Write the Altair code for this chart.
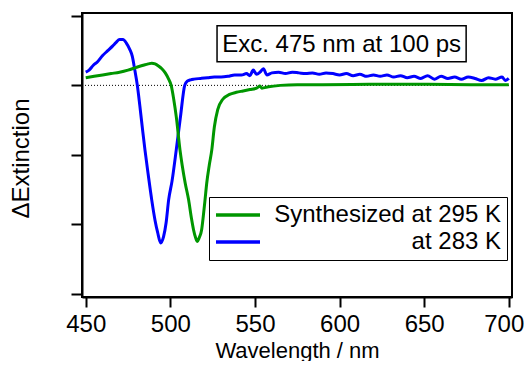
import altair as alt
import pandas as pd

# ---- data ----
blue_label = "at 283 K"
green_label = "Synthesized at 295 K"

blue_wl = [450, 452, 454.5, 457, 460, 463, 466, 468, 470, 472, 474, 476, 477.5, 479,
           480.5, 482, 483.5, 485, 487, 489, 491, 492.5, 494.3, 496, 497.5, 499, 501,
           503.5, 506, 508.5, 510, 512, 514, 518, 522, 526, 530, 534, 538, 542, 545,
           547, 549, 551, 553, 555, 557, 560, 564, 568, 572, 576, 580, 584, 588, 592,
           596, 600, 604, 608, 612, 616, 620, 624, 628, 632, 636, 640, 644, 648, 652,
           656, 660, 664, 668, 672, 676, 680, 684, 688, 692, 696, 698, 700]
blue_val = [0.19, 0.22, 0.29, 0.34, 0.43, 0.50, 0.57, 0.62, 0.66, 0.66, 0.61, 0.52, 0.42,
            0.22, 0.0, -0.3, -0.62, -0.93, -1.3, -1.65, -1.95, -2.12, -2.27, -2.18,
            -1.98, -1.65, -1.38, -0.93, -0.45, 0.0, 0.06, 0.08, 0.09, 0.10, 0.11, 0.12,
            0.12, 0.13, 0.15, 0.15, 0.17, 0.14, 0.22, 0.16, 0.19, 0.24, 0.15, 0.18,
            0.19, 0.17, 0.19, 0.18, 0.17, 0.18, 0.16, 0.18, 0.17, 0.15, 0.17, 0.14,
            0.16, 0.13, 0.15, 0.13, 0.15, 0.12, 0.14, 0.11, 0.13, 0.10, 0.14, 0.09,
            0.13, 0.10, 0.12, 0.09, 0.12, 0.10, 0.07, 0.11, 0.09, 0.12, 0.07, 0.10]

green_wl = [450, 455, 460, 465, 470, 475, 480, 484, 487, 489, 491, 493, 495, 497, 499,
            500.5, 502, 503.5, 505.7, 507, 508.8, 510.8, 512.5, 513.7, 515, 516, 517,
            518.5, 519.5, 520.5, 521.5, 523, 524.5, 526, 528, 531, 535, 539, 543, 547,
            551, 553, 554, 558, 565, 575, 590, 620, 650, 680, 700]
green_val = [0.11, 0.13, 0.15, 0.17, 0.19, 0.22, 0.26, 0.29, 0.31, 0.32, 0.31, 0.28,
             0.24, 0.18, 0.09, 0.0, -0.2, -0.45, -0.93, -1.15, -1.41, -1.65, -1.92,
             -2.08, -2.2, -2.25, -2.2, -2.08, -1.88, -1.65, -1.41, -1.15, -0.93, -0.6,
             -0.35, -0.2, -0.13, -0.1, -0.08, -0.06, -0.04, -0.01, -0.04, -0.02, 0.0,
             0.01, 0.01, 0.015, 0.015, 0.01, 0.01]

x_ticks = [450, 500, 550, 600, 650, 700]
y_ticks = [-3, -2, -1, 0, 1]

annotation = "Exc. 475 nm at 100 ps"

df = pd.concat([
    pd.DataFrame({"wl": blue_wl, "val": blue_val, "series": blue_label, "order": 0}),
    pd.DataFrame({"wl": green_wl, "val": green_val, "series": green_label, "order": 1}),
])

FONT = "Liberation Sans"
GREEN = "#009600"
BLUE = "#0000ff"

xscale = alt.Scale(domain=[447.8, 701.9], nice=False, zero=False)
yscale = alt.Scale(domain=[-3.05, 1.043], nice=False, zero=False)

base = alt.Chart(df)

lines = base.mark_line(strokeWidth=3, interpolate="monotone", clip=True).encode(
    x=alt.X("wl:Q", scale=xscale,
            axis=alt.Axis(values=x_ticks, title="Wavelength / nm", titleY=53,
                          titleFontSize=22,
                          titleBaseline="middle", labelPadding=5,
                          labelOffset={"condition": {"test": "datum.value == 700",
                                                     "value": -5}, "value": 0})),
    y=alt.Y("val:Q", scale=yscale,
            axis=alt.Axis(values=y_ticks, labels=False, title="ΔExtinction",
                          titleX=-61, titleY=145, titleBaseline="middle",
                          titleAngle=-90)),
    color=alt.Color("series:N",
                    scale=alt.Scale(domain=[green_label, blue_label], range=[GREEN, BLUE]),
                    legend=alt.Legend(title=None, orient="none", legendX=127, legendY=184,
                                      symbolType="M-2,0H6", symbolSize=121,
                                      symbolStrokeWidth=3.5, labelAlign="right",
                                      labelOffset=262, labelLimit=400, padding=6,
                                      strokeColor="black", rowPadding=3)),
    detail="series:N",
    order="order:Q",
)

zero = alt.Chart(pd.DataFrame({"z": [0]})).mark_rule(
    color="black", strokeWidth=1, strokeDash=[1, 2]).encode(
    y=alt.Y("z:Q", scale=yscale))

ann_df = pd.DataFrame({"x1": [527.6], "x2": [674.8], "y1": [0.34], "y2": [0.86],
                       "xc": [601.2], "yc": [0.585], "t": [annotation]})
box = alt.Chart(ann_df).mark_rect(fill="white", stroke="black", strokeWidth=1.5).encode(
    x=alt.X("x1:Q", scale=xscale), x2="x2:Q",
    y=alt.Y("y1:Q", scale=yscale), y2="y2:Q")
txt = alt.Chart(ann_df).mark_text(font=FONT, fontSize=24, color="black",
                                  align="center", baseline="middle").encode(
    x=alt.X("xc:Q", scale=xscale), y=alt.Y("yc:Q", scale=yscale), text="t:N")

chart = alt.layer(zero, lines, box, txt).properties(
    width=430, height=284,
    padding={"left": 74, "top": 5, "right": 12, "bottom": 64},
    autosize="none",
).configure_view(stroke="black", strokeWidth=2).configure_axis(
    domainColor="black", domainWidth=2, tickColor="black", tickWidth=2,
    grid=False, labelFont=FONT, labelFontSize=24, labelColor="black",
    titleFont=FONT, titleFontSize=24, titleColor="black", titleFontWeight="normal",
).configure_axisX(tickSize=10).configure_axisY(tickSize=11).configure_legend(
    labelFont=FONT, labelFontSize=24, labelColor="black",
)

chart.save("out.html", embed_options={"renderer": "svg", "actions": False})
